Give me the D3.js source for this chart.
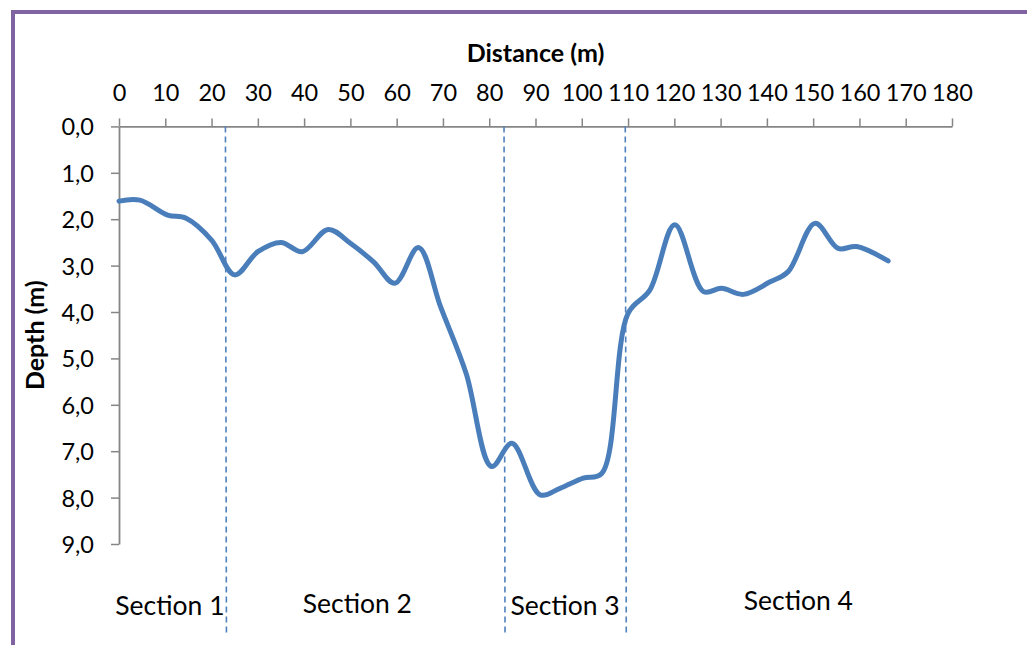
<!DOCTYPE html>
<html>
<head>
<meta charset="utf-8">
<script src="https://cdn.jsdelivr.net/npm/d3@7"></script>
<style>
  html, body { margin: 0; padding: 0; background: #fff; }
  svg { display: block; }
  text { font-family: Lato, "Open Sans", sans-serif; fill: #000; }
</style>
</head>
<body>
<script>
// Bathymetric profile along the survey line
const distance = [0, 4.5, 10.5, 14.5, 20, 25, 30, 35, 39.6, 45.2, 50, 55, 59.6, 64.7, 69.5, 75, 80.5, 84.9,
                  91, 95.3, 100.3, 104.3, 110, 114.7, 120.1, 126.3, 130.2, 134.9, 140.7, 144.6, 150.4, 155.4, 159.4, 166.2];
const depth    = [1.61, 1.59, 1.91, 1.98, 2.45, 3.2, 2.7, 2.5, 2.7, 2.22, 2.52, 2.92, 3.38, 2.61, 3.89, 5.32, 7.33, 6.83,
                  7.94, 7.8, 7.58, 7.48, 4.03, 3.53, 2.12, 3.56, 3.49, 3.62, 3.35, 3.13, 2.09, 2.63, 2.59, 2.9];

// Axis ticks
const distanceTicks = [0, 10, 20, 30, 40, 50, 60, 70, 80, 90, 100, 110, 120, 130, 140, 150, 160, 170, 180];
const depthTicks = [0, 1, 2, 3, 4, 5, 6, 7, 8, 9];

// Section boundaries and labels
const sectionBreaks = [23, 83.2, 109.4];
const sectionNames = ["Section 1", "Section 2", "Section 3", "Section 4"];
const sectionCenters = [11, 51.5, 96.4, 146.8];
const sectionLabelDepth = [10.53, 10.49, 10.53, 10.42];

const W = 1027, H = 645;
const svg = d3.select("body").append("svg").attr("width", W).attr("height", H);

// Frame
svg.append("rect")
  .attr("x", 13).attr("y", 12).attr("width", W + 20).attr("height", H + 20)
  .attr("fill", "none").attr("stroke", "#8064A2").attr("stroke-width", 4);

const x = d3.scaleLinear().domain([0, 180]).range([119, 952]);
const y = d3.scaleLinear().domain([0, 9]).range([126.4, 544]);

const axisColor = "#868686";
const fmt = d => d.toFixed(1).replace(".", ",");

// X axis (top)
const xAxis = svg.append("g").attr("transform", `translate(0,${y(0)})`)
  .call(d3.axisTop(x).tickValues(distanceTicks).tickSize(8).tickSizeOuter(0).tickFormat(d3.format("d")));
xAxis.select(".domain").attr("stroke", axisColor).attr("stroke-width", 1.8);
xAxis.selectAll(".tick line").attr("stroke", axisColor).attr("stroke-width", 1.5);
xAxis.selectAll(".tick text")
  .attr("y", -25.5).attr("dy", 0)
  .style("font-size", "23.5px").style("font-family", "Lato, sans-serif").attr("fill", "#000");

// Y axis (left)
const yAxis = svg.append("g").attr("transform", `translate(${x(0)},0)`)
  .call(d3.axisLeft(y).tickValues(depthTicks).tickSize(8).tickSizeOuter(0).tickFormat(fmt));
yAxis.select(".domain").attr("stroke", axisColor).attr("stroke-width", 1.8);
yAxis.selectAll(".tick text")
  .attr("x", -25).attr("dy", 0).attr("y", 8.5)
  .style("font-size", "23.5px").style("font-family", "Lato, sans-serif").attr("fill", "#000");
yAxis.selectAll(".tick line").attr("stroke", axisColor).attr("stroke-width", 1.5);

// Axis titles
svg.append("text")
  .attr("x", (x(0) + x(180)) / 2).attr("y", 61.7)
  .attr("text-anchor", "middle")
  .style("font-size", "25px").style("font-weight", "bold")
  .text("Distance (m)");

svg.append("text")
  .attr("transform", `translate(43.5,${(y(0) + y(9)) / 2}) rotate(-90)`)
  .attr("text-anchor", "middle")
  .style("font-size", "25px").style("font-weight", "bold")
  .text("Depth (m)");

// Section boundaries
svg.append("g").selectAll("line").data(sectionBreaks).join("line")
  .attr("x1", d => x(d)).attr("x2", d => x(d) + 1)
  .attr("y1", y(0)).attr("y2", y(10.98))
  .attr("stroke", "#4F81BD").attr("stroke-width", 1.6)
  .attr("stroke-dasharray", "6 4");

// Depth profile
const pts = distance.map((d, i) => [d, depth[i]]);
svg.append("path")
  .datum(pts)
  .attr("fill", "none")
  .attr("stroke", "#4A7EBB")
  .attr("stroke-width", 5)
  .attr("stroke-linecap", "round")
  .attr("stroke-linejoin", "round")
  .attr("d", d3.line().x(d => x(d[0])).y(d => y(d[1])).curve(d3.curveCatmullRom.alpha(0.5)));

// Section labels
svg.append("g").selectAll("text").data(sectionNames).join("text")
  .attr("x", (d, i) => x(sectionCenters[i]))
  .attr("y", (d, i) => y(sectionLabelDepth[i]))
  .attr("text-anchor", "middle")
  .style("font-size", "26.5px")
  .text(d => d);
</script>
</body>
</html>
